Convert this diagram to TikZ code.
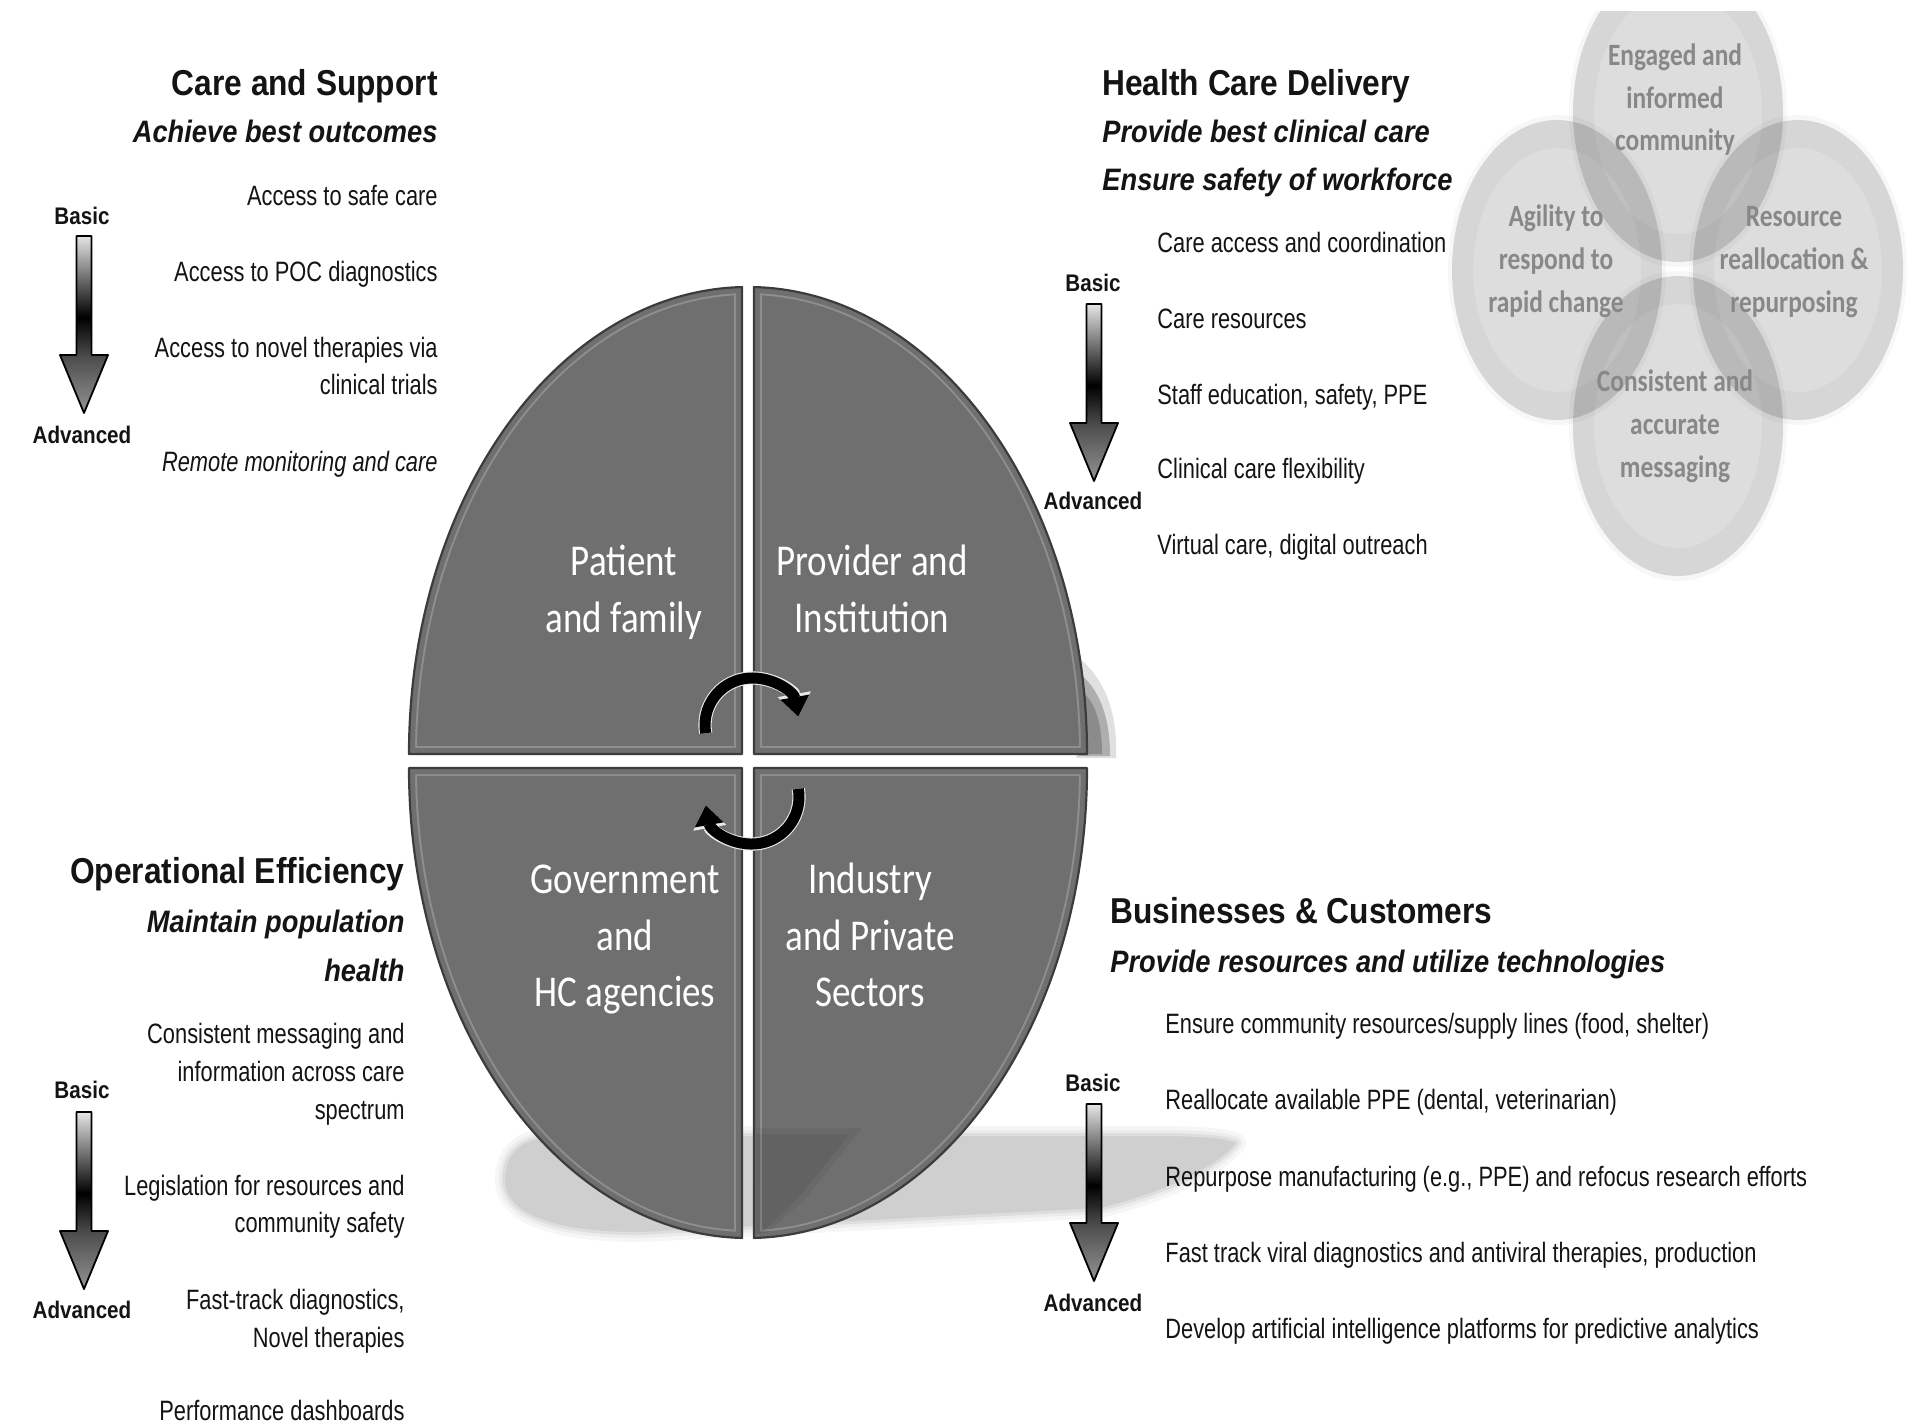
\documentclass[tikz,border=0pt]{standalone}
\usepackage{fontspec}
\setmainfont{Liberation Sans}
\newfontfamily\headfont[FakeStretch=0.88]{Liberation Sans}
\newfontfamily\itemfont[FakeStretch=0.78]{Liberation Sans}
\newfontfamily\tagfont[FakeStretch=0.86]{Liberation Sans}
\newfontfamily\quadfont[FakeStretch=0.84]{Carlito}
\newfontfamily\ringfont[FakeStretch=0.82]{Carlito}
\usetikzlibrary{arrows.meta}

\definecolor{ink}{HTML}{141414}
\definecolor{quadfill}{HTML}{6F6F6F}
\definecolor{quadedge}{HTML}{3C3C3C}
\definecolor{quadlight}{HTML}{8E8E8E}
\definecolor{ringink}{HTML}{888888}

% light at the top of the shaft, black above the head, mid grey at the tip
\pgfdeclareverticalshading{arrowshade}{100bp}{%
  color(0bp)=(black!42); color(25bp)=(black!42); color(41bp)=(black!70);
  color(52bp)=(black); color(75bp)=(black!10); color(100bp)=(black!10)}

\tikzset{
  head/.style={inner sep=0pt, text=ink, font=\headfont\bfseries\fontsize{18}{22}\selectfont},
  sub/.style={inner sep=0pt, text=ink, font=\headfont\bfseries\itshape\fontsize{15.5}{19}\selectfont},
  item/.style={inner sep=0pt, text=ink, font=\itemfont\fontsize{14}{17}\selectfont},
  itemit/.style={inner sep=0pt, text=ink, font=\itemfont\itshape\fontsize{14}{17}\selectfont},
  tag/.style={inner sep=0pt, anchor=base, text=ink, font=\tagfont\bfseries\fontsize{12}{14}\selectfont},
  quadtext/.style={inner sep=0pt, anchor=base, text=white, font=\quadfont\fontsize{22}{28}\selectfont},
  ringtext/.style={inner sep=0pt, anchor=base, text=ringink, font=\ringfont\bfseries\fontsize{15.5}{20}\selectfont},
  bubble/.style={fill=black, fill opacity=0.10},
  bubblerim/.style={fill=black, fill opacity=0.03, even odd rule},
  cyclehalo/.style={line width=6.6pt, gray!18, -{Triangle[width=16pt,length=11.5pt]}},
  cyclearrow/.style={line width=5.5pt, black, -{Triangle[width=14pt,length=10pt]}},
}

% one quarter of the central disc: flat fill, inner bevel line, dark rim
\newcommand\drawquad[1]{%
  \fill[quadfill] #1;
  \begin{scope}
    \clip #1;
    \draw[line width=8pt, quadlight] #1;
    \draw[line width=6pt, quadfill] #1;
  \end{scope}
  \draw[line width=1.1pt, quadedge, line join=round] #1;}

% shaded block arrow running from "Basic" to "Advanced"
\newcommand\gradarrow[2]{%
  \begin{scope}[shift={(#1,-#2)}]
    \shadedraw[shading=arrowshade, draw=black, line width=0.9pt, line join=round]
      (-7.5,0) -- (7.5,0) -- (7.5,-119) -- (24,-119) -- (0,-177)
      -- (-24,-119) -- (-7.5,-119) -- cycle;
  \end{scope}}

\def\floorshadow{(560,-1136) -- (1170,-1136) .. controls (1210,-1137) and (1228,-1139) .. (1236,-1143)
  .. controls (1218,-1165) and (1172,-1190) .. (1100,-1208)
  -- (640,-1232) .. controls (540,-1232) and (505,-1208) .. (505,-1180)
  .. controls (505,-1150) and (525,-1137) .. (560,-1136) -- cycle}

\begin{document}
\begin{tikzpicture}[x=0.5pt, y=0.5pt]
\useasboundingbox (0,0) rectangle (1917,-1426);
\fill[white] (0,0) rectangle (1917,-1426);

% ---------- four overlapping bubbles, top right ----------
\begin{scope}
  \clip (1400,-11) rectangle (1917,-640);
  \foreach \cx/\cy in {1678/-112, 1557/-270, 1798/-270, 1678/-426}{
    \fill[black, fill opacity=0.03] (\cx,\cy) ellipse[x radius=109, y radius=155];
    \fill[bubble] (\cx,\cy) ellipse[x radius=105, y radius=150];
    \fill[bubblerim] (\cx,\cy) ellipse[x radius=105, y radius=150]
                     (\cx,\cy) ellipse[x radius=84, y radius=122];
  }
\end{scope}
\node[ringtext] (r1a) at (1675,-65)  {Engaged and};
\node[ringtext] (r1b) at (1675,-108) {informed};
\node[ringtext] (r1c) at (1675,-150) {community};
\node[ringtext] (r2a) at (1556,-226) {Agility to};
\node[ringtext] (r2b) at (1556,-269) {respond to};
\node[ringtext] (r2c) at (1556,-312) {rapid change};
\node[ringtext] (r3a) at (1794,-226) {Resource};
\node[ringtext] (r3b) at (1794,-269) {reallocation \&};
\node[ringtext] (r3c) at (1794,-312) {repurposing};
\node[ringtext] (r4a) at (1675,-391) {Consistent and};
\node[ringtext] (r4b) at (1675,-434) {accurate};
\node[ringtext] (r4c) at (1675,-477) {messaging};

% ---------- shadows under and beside the disc ----------
\draw[line width=10pt, gray!7, line join=round] \floorshadow;
\draw[line width=6pt, gray!15, line join=round] \floorshadow;
\draw[line width=3pt, gray!26, line join=round] \floorshadow;
\fill[gray!38] \floorshadow;
\fill[black, opacity=0.12] (1076,-656) .. controls (1104,-676) and (1118,-712) .. (1116,-758) -- (1076,-758) -- cycle;
\fill[black, opacity=0.22] (1078,-672) .. controls (1098,-688) and (1110,-714) .. (1110,-756) -- (1078,-756) -- cycle;
\fill[black, opacity=0.20] (1080,-690) .. controls (1094,-700) and (1102,-720) .. (1102,-754) -- (1080,-754) -- cycle;

% ---------- central disc in four quarters ----------
\drawquad{(742,-754) -- (409,-754) arc[start angle=180, end angle=91, x radius=339, y radius=467] -- cycle}
\drawquad{(1087,-754) arc[start angle=0, end angle=89, x radius=339, y radius=467] -- (754,-754) -- cycle}
\drawquad{(409,-768) arc[start angle=180, end angle=269, x radius=339, y radius=470] -- (742,-768) -- cycle}
\drawquad{(754,-768) -- (1087,-768) arc[start angle=0, end angle=-89, x radius=339, y radius=470] -- cycle}
\begin{scope}
  \clip (758,-772) -- (1080,-772) arc[start angle=0, end angle=-89, x radius=330, y radius=462] -- cycle;
  \fill[black, opacity=0.05] (754,-1128) -- (862,-1128) -- (806,-1198) -- (754,-1245) -- cycle;
  \fill[black, opacity=0.06] (754,-1134) -- (850,-1134) -- (800,-1196) -- (754,-1240) -- cycle;
\end{scope}

\node[quadtext] (q1a) at (624,-575) {Patient};
\node[quadtext] (q1b) at (624,-632) {and family};
\node[quadtext] (q2a) at (872,-575) {Provider and};
\node[quadtext] (q2b) at (872,-632) {Institution};
\node[quadtext] (q3a) at (625,-893) {Government};
\node[quadtext] (q3b) at (625,-950) {and};
\node[quadtext] (q3c) at (625,-1006) {HC agencies};
\node[quadtext] (q4a) at (870,-893) {Industry};
\node[quadtext] (q4b) at (870,-950) {and Private};
\node[quadtext] (q4c) at (870,-1006) {Sectors};

% ---------- cycle arrows at the centre ----------
\draw[cyclehalo]  (752,-725) ++(190:47) arc[start angle=190, end angle=10, radius=47];
\draw[cyclearrow] (752,-725) ++(190:47) arc[start angle=190, end angle=10, radius=47];
\draw[cyclehalo]  (752,-797) ++(10:47) arc[start angle=10, end angle=-170, radius=47];
\draw[cyclearrow] (752,-797) ++(10:47) arc[start angle=10, end angle=-170, radius=47];

% ---------- Care and Support ----------
\node[head, anchor=base east] (cs)  at (438,-95)  {Care and Support};
\node[sub,  anchor=base east] (csg) at (438,-142) {Achieve best outcomes};
\node[item, anchor=base east] (cs1) at (438,-205) {Access to safe care};
\node[item, anchor=base east] (cs2) at (438,-281) {Access to POC diagnostics};
\node[item, anchor=base east] (cs3) at (438,-357) {Access to novel therapies via};
\node[item, anchor=base east] (cs3b) at (438,-394) {clinical trials};
\node[itemit, anchor=base east] (cs4) at (438,-471) {Remote monitoring and care};
\node[tag] (csb) at (82,-224) {Basic};
\node[tag] (csa) at (82,-443) {Advanced};
\gradarrow{84}{236}

% ---------- Health Care Delivery ----------
\node[head, anchor=base west] (hc)  at (1102,-95)  {Health Care Delivery};
\node[sub,  anchor=base west] (hcg) at (1102,-142) {Provide best clinical care};
\node[sub,  anchor=base west] (hch) at (1102,-190) {Ensure safety of workforce};
\node[item, anchor=base west] (hc1) at (1157,-252) {Care access and coordination};
\node[item, anchor=base west] (hc2) at (1157,-328) {Care resources};
\node[item, anchor=base west] (hc3) at (1157,-404) {Staff education, safety, PPE};
\node[item, anchor=base west] (hc4) at (1157,-478) {Clinical care flexibility};
\node[item, anchor=base west] (hc5) at (1157,-554) {Virtual care, digital outreach};
\node[tag] (hcb) at (1093,-291) {Basic};
\node[tag] (hca) at (1093,-509) {Advanced};
\gradarrow{1094}{304}

% ---------- Operational Efficiency ----------
\node[head, anchor=base east] (oe)  at (405,-883) {Operational Efficiency};
\node[sub,  anchor=base east] (oeg) at (405,-932) {Maintain population};
\node[sub,  anchor=base east] (oeh) at (405,-981) {health};
\node[item, anchor=base east] (oe1) at (405,-1043) {Consistent messaging and};
\node[item, anchor=base east] (oe1b) at (405,-1081) {information across care};
\node[item, anchor=base east] (oe1c) at (405,-1119) {spectrum};
\node[item, anchor=base east] (oe2) at (405,-1195) {Legislation for resources and};
\node[item, anchor=base east] (oe2b) at (405,-1232) {community safety};
\node[item, anchor=base east] (oe3) at (405,-1309) {Fast-track diagnostics,};
\node[item, anchor=base east] (oe3b) at (405,-1347) {Novel therapies};
\node[item, anchor=base east] (oe4) at (405,-1420) {Performance dashboards};
\node[tag] (oeb) at (82,-1098) {Basic};
\node[tag] (oea) at (82,-1318) {Advanced};
\gradarrow{84}{1112}

% ---------- Businesses & Customers ----------
\node[head, anchor=base west] (bc)  at (1110,-923) {Businesses \& Customers};
\node[sub,  anchor=base west] (bcg) at (1110,-972) {Provide resources and utilize technologies};
\node[item, anchor=base west] (bc1) at (1165,-1033) {Ensure community resources/supply lines (food, shelter)};
\node[item, anchor=base west] (bc2) at (1165,-1109) {Reallocate available PPE (dental, veterinarian)};
\node[item, anchor=base west] (bc3) at (1165,-1186) {Repurpose manufacturing (e.g., PPE) and refocus research efforts};
\node[item, anchor=base west] (bc4) at (1165,-1262) {Fast track viral diagnostics and antiviral therapies, production};
\node[item, anchor=base west] (bc5) at (1165,-1338) {Develop artificial intelligence platforms for predictive analytics};
\node[tag] (bcb) at (1093,-1091) {Basic};
\node[tag] (bca) at (1093,-1311) {Advanced};
\gradarrow{1094}{1104}
\end{tikzpicture}
\end{document}
